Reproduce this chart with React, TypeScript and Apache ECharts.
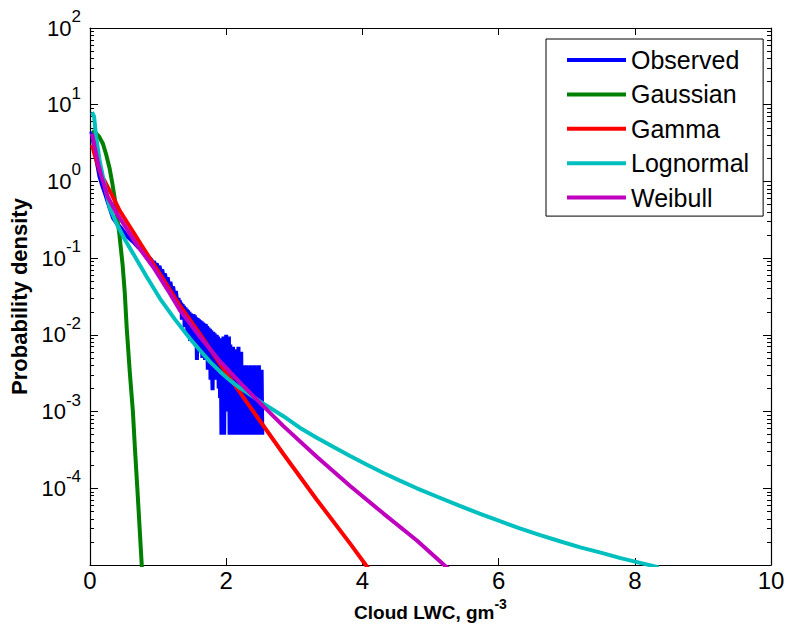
import { useEffect, useRef } from 'react';
import * as echarts from 'echarts';

// Legend order and MATLAB-like line colours
const seriesNames = ['Observed', 'Gaussian', 'Gamma', 'Lognormal', 'Weibull'];
const seriesColors = ['#0000ff', '#008000', '#ff0000', '#00bfbf', '#bf00bf'];

// Axis ticks
const xTicks = [0, 2, 4, 6, 8, 10];
const yMajorTicks = [1e-5, 1e-4, 1e-3, 1e-2, 1e-1, 1, 10, 100];
const yLabelledTicks = [1e-4, 1e-3, 1e-2, 1e-1, 1, 10, 100];

// Observed histogram density (x = cloud LWC in g/m^3)
const observed: [number, number][] = [
  [0.02, 4.5], [0.05, 3.2], [0.08, 2.2], [0.11, 1.6], [0.14, 1.15], [0.18, 0.88],
  [0.22, 0.7], [0.26, 0.54], [0.3, 0.42], [0.34, 0.33], [0.4, 0.28], [0.45, 0.25],
  [0.5, 0.22], [0.55, 0.19], [0.6, 0.174], [0.65, 0.158], [0.7, 0.141], [0.75, 0.129],
  [0.8, 0.115], [0.85, 0.105],
  [0.9, 0.0955], [0.92, 0.0871], [0.94, 0.0912], [0.96, 0.0794], [0.98, 0.0851], [1.0, 0.0724],
  [1.02, 0.0794], [1.04, 0.0661], [1.06, 0.0708], [1.08, 0.0575], [1.1, 0.0631], [1.12, 0.0501],
  [1.14, 0.0562], [1.16, 0.0437], [1.18, 0.049], [1.2, 0.038], [1.22, 0.0427], [1.24, 0.0331],
  [1.26, 0.0372], [1.28, 0.0275],
  [1.3, 0.0302], [1.31, 0.024], [1.32, 0.0282], [1.33, 0.02], [1.34, 0.0263], [1.35, 0.0158],
  [1.36, 0.0251], [1.37, 0.0182], [1.38, 0.024], [1.39, 0.0126], [1.4, 0.0229], [1.41, 0.0166],
  [1.42, 0.0219], [1.43, 0.01], [1.44, 0.0209], [1.45, 0.0141], [1.46, 0.02], [1.47, 0.0083],
  [1.48, 0.0191], [1.49, 0.0126], [1.5, 0.0182], [1.51, 0.0079], [1.52, 0.0186], [1.53, 0.0112],
  [1.54, 0.018], [1.55, 0.0071], [1.56, 0.017], [1.57, 0.0047], [1.58, 0.0165], [1.59, 0.0089],
  [1.6, 0.016], [1.61, 0.0063], [1.62, 0.0155], [1.63, 0.01], [1.64, 0.015], [1.65, 0.005],
  [1.66, 0.0145], [1.67, 0.0076], [1.68, 0.014], [1.69, 0.0047], [1.7, 0.0138], [1.71, 0.0063],
  [1.72, 0.013], [1.73, 0.0035], [1.74, 0.0125], [1.75, 0.005], [1.76, 0.012], [1.77, 0.0026],
  [1.78, 0.0115], [1.79, 0.004], [1.8, 0.0019], [1.81, 0.011], [1.82, 0.003], [1.83, 0.0105],
  [1.84, 0.005], [1.85, 0.0026], [1.86, 0.01], [1.87, 0.0045], [1.88, 0.0095], [1.89, 0.002],
  [1.9, 0.0085], [1.91, 0.0015], [1.92, 0.009], [1.93, 0.0005], [1.94, 0.0075], [1.95, 0.001],
  [1.96, 0.0095], [1.97, 0.0005], [1.98, 0.007], [1.99, 0.0025], [2.0, 0.01], [2.01, 0.001],
  [2.02, 0.0085], [2.03, 0.0015], [2.04, 0.0095], [2.05, 0.0005], [2.06, 0.0075], [2.07, 0.001],
  [2.08, 0.006], [2.09, 0.0005], [2.1, 0.007], [2.11, 0.0015], [2.12, 0.005], [2.13, 0.0005],
  [2.14, 0.0065], [2.15, 0.001], [2.16, 0.0055], [2.17, 0.0005], [2.18, 0.007], [2.19, 0.002],
  [2.2, 0.0045], [2.21, 0.0005], [2.22, 0.006], [2.23, 0.001], [2.24, 0.0035], [2.25, 0.0005],
  [2.26, 0.004], [2.27, 0.001], [2.28, 0.003], [2.29, 0.0005], [2.3, 0.004], [2.31, 0.0015],
  [2.32, 0.0035], [2.33, 0.0005], [2.34, 0.0025], [2.35, 0.0005], [2.36, 0.004], [2.37, 0.001],
  [2.38, 0.003], [2.39, 0.0005], [2.4, 0.0035], [2.41, 0.0005], [2.42, 0.004], [2.43, 0.001],
  [2.44, 0.0025], [2.45, 0.0005], [2.46, 0.0035], [2.47, 0.0005], [2.48, 0.004], [2.49, 0.0015],
  [2.5, 0.003], [2.51, 0.0005], [2.52, 0.0035], [2.53, 0.0005],
];

// Fitted distributions
const gaussian: [number, number][] = [
  [0.03, 4.5], [0.07, 4.4], [0.13, 3.9], [0.19, 3.1], [0.24, 2.2], [0.29, 1.45],
  [0.33, 0.92], [0.37, 0.55], [0.43, 0.21], [0.48, 0.08], [0.51, 0.036], [0.54, 0.012],
  [0.585, 0.0032], [0.63, 0.001], [0.66, 0.00033], [0.695, 0.0001], [0.73, 0.000029],
  [0.76, 0.00001], [0.775, 0.000006],
];

const gamma: [number, number][] = [
  [0.03, 3.0], [0.07, 2.2], [0.15, 1.3], [0.31, 0.7], [0.44, 0.41], [0.6, 0.245],
  [0.75, 0.15], [0.9, 0.093], [1.05, 0.058], [1.32, 0.024], [1.6, 0.0107], [1.96, 0.0036],
  [2.35, 0.00115], [2.84, 0.00028], [3.33, 0.000071], [3.82, 0.000019], [4.05, 0.00001],
  [4.11, 0.0000085],
];

const lognormal: [number, number][] = [
  [0.03, 8.0], [0.06, 7.0], [0.09, 3.8], [0.14, 1.9], [0.22, 0.85], [0.29, 0.45],
  [0.4, 0.27], [0.52, 0.17], [0.64, 0.112], [0.83, 0.0575], [1.03, 0.0295], [1.25, 0.0158],
  [1.47, 0.0089], [1.62, 0.0062], [1.76, 0.00447], [1.91, 0.00331], [2.05, 0.00257],
  [2.2, 0.00204], [2.35, 0.00166], [2.5, 0.00135], [2.84, 0.00087], [3.08, 0.000617],
  [3.33, 0.000457], [3.57, 0.000347], [3.82, 0.000263], [4.06, 0.000204], [4.31, 0.000158],
  [4.55, 0.000126], [4.8, 0.0001], [5.1, 0.0000776], [5.43, 0.0000589], [5.72, 0.0000468],
  [6.02, 0.0000372], [6.3, 0.0000302], [6.61, 0.0000245], [6.9, 0.0000204], [7.2, 0.000017],
  [7.5, 0.0000145], [7.79, 0.0000123], [8.02, 0.000011], [8.25, 0.0000098], [8.35, 0.0000093],
];

const weibull: [number, number][] = [
  [0.03, 4.2], [0.07, 2.8], [0.12, 1.7], [0.17, 1.15], [0.26, 0.63], [0.41, 0.36],
  [0.55, 0.234], [0.69, 0.148], [0.93, 0.076], [1.17, 0.035], [1.32, 0.021], [1.62, 0.0093],
  [1.91, 0.0045], [2.2, 0.0024], [2.5, 0.00129], [2.84, 0.000646], [3.33, 0.000257],
  [3.82, 0.000107], [4.31, 0.0000468], [4.8, 0.0000209], [5.2, 0.00001], [5.27, 0.0000089],
];

const seriesData = [observed, gaussian, gamma, lognormal, weibull];

// Minor log ticks 2..9 within each decade
const yMinorTicks: number[] = [];
for (let d = -5; d < 2; d++) {
  for (let m = 2; m <= 9; m++) {
    yMinorTicks.push(Number((m * Math.pow(10, d)).toPrecision(3)));
  }
}

const FONT = '"Liberation Sans", Arial, Helvetica, sans-serif';
const BLACK = '#000';

export default function App() {
  const ref = useRef<HTMLDivElement>(null);

  useEffect(() => {
    if (!ref.current) return;
    const chart = echarts.init(ref.current, null, { renderer: 'svg' });

    const axisLine = { show: true, lineStyle: { color: BLACK, width: 1.2 } };
    const tickStyle = { color: BLACK, width: 1 };

    const logAxisBase = {
      type: 'log' as const,
      logBase: 10,
      min: 1e-5,
      max: 100,
      splitLine: { show: false },
      minorTick: { show: false },
      minorSplitLine: { show: false },
    };

    const option: any = {
      animation: false,
      backgroundColor: '#fff',
      grid: { left: 90, right: 14, top: 28, bottom: 68, containLabel: false, outerBoundsMode: 'none' },
      legend: {
        data: seriesNames,
        orient: 'vertical',
        left: 546,
        top: 39,
        icon: 'rect',
        itemWidth: 59,
        itemHeight: 4,
        itemGap: 9.4,
        padding: [8.5, 14, 6, 21],
        borderColor: BLACK,
        borderWidth: 1,
        borderRadius: 0,
        backgroundColor: '#fff',
        textStyle: { fontFamily: FONT, fontSize: 25, lineHeight: 25, color: BLACK },
      },
      xAxis: [
        {
          type: 'value',
          position: 'bottom',
          min: 0,
          max: 10,
          interval: 2,
          axisLine,
          axisTick: { inside: true, length: 7, lineStyle: tickStyle },
          axisLabel: {
            fontFamily: FONT,
            fontSize: 24,
            color: BLACK,
            margin: 3,
            customValues: xTicks,
            formatter: (v: number) => String(v),
          },
          splitLine: { show: false },
          name: '{b|Cloud LWC, gm}{e|-3}',
          nameLocation: 'middle',
          nameGap: 30,
          nameTextStyle: {
            fontFamily: FONT,
            fontWeight: 'bold',
            fontSize: 19,
            color: BLACK,
            rich: {
              b: { fontFamily: FONT, fontWeight: 'bold', fontSize: 19, lineHeight: 32, color: BLACK },
              e: { fontFamily: FONT, fontWeight: 'bold', fontSize: 14, lineHeight: 14, verticalAlign: 'top', color: BLACK },
            },
          },
        },
        {
          type: 'value',
          position: 'top',
          min: 0,
          max: 10,
          interval: 2,
          axisLine,
          axisTick: { inside: true, length: 7, lineStyle: tickStyle },
          axisLabel: { show: false },
          splitLine: { show: false },
        },
      ],
      yAxis: [
        {
          ...logAxisBase,
          position: 'left',
          axisLine,
          axisTick: { inside: true, length: 8, lineStyle: tickStyle, customValues: yMajorTicks },
          axisLabel: {
            customValues: yLabelledTicks,
            margin: 9,
            color: BLACK,
            formatter: (v: number) => `{b|10}{e|${Math.round(Math.log10(v))}}`,
            rich: {
              b: { fontFamily: FONT, fontSize: 22, lineHeight: 40, color: BLACK },
              e: { fontFamily: FONT, fontSize: 17, lineHeight: 17, verticalAlign: 'top', color: BLACK },
            },
          },
          name: 'Probability density',
          nameLocation: 'middle',
          nameGap: 57,
          nameTextStyle: { fontFamily: FONT, fontWeight: 'bold', fontSize: 22, color: BLACK },
        },
        {
          ...logAxisBase,
          position: 'left',
          axisLine: { show: false },
          axisTick: { inside: true, length: 4, lineStyle: tickStyle, customValues: yMinorTicks },
          axisLabel: { show: false },
        },
        {
          ...logAxisBase,
          position: 'right',
          axisLine,
          axisTick: { inside: true, length: 8, lineStyle: tickStyle, customValues: yMajorTicks },
          axisLabel: { show: false },
        },
        {
          ...logAxisBase,
          position: 'right',
          axisLine: { show: false },
          axisTick: { inside: true, length: 4, lineStyle: tickStyle, customValues: yMinorTicks },
          axisLabel: { show: false },
        },
      ],
      series: seriesNames.map((name, i) => ({
        name,
        type: 'line',
        xAxisIndex: 0,
        yAxisIndex: 0,
        data: seriesData[i],
        showSymbol: false,
        symbol: 'none',
        clip: true,
        color: seriesColors[i],
        lineStyle: { color: seriesColors[i], width: 4 },
        emphasis: { disabled: true },
      })),
    };

    chart.setOption(option);
    return () => chart.dispose();
  }, []);

  return (
    <div
      ref={ref}
      style={{ position: 'fixed', left: 0, top: 0, width: 785, height: 633, background: '#fff' }}
    />
  );
}
